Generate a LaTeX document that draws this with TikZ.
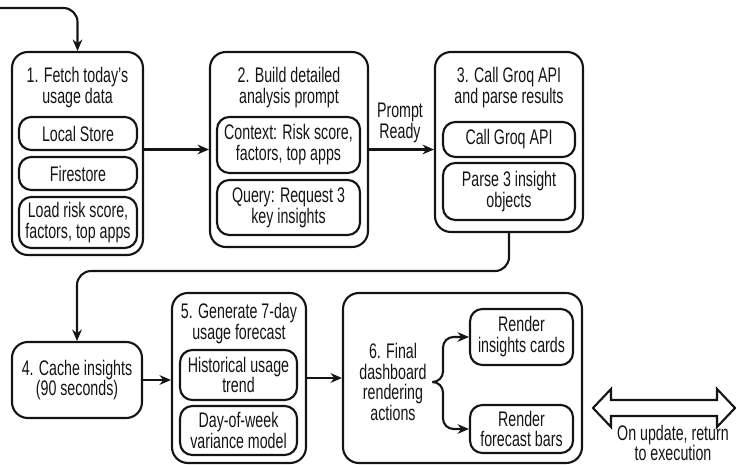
\documentclass[tikz,border=0pt]{standalone}
\usepackage{fontspec}
\setmainfont[FakeStretch=0.675]{Liberation Sans}
\usetikzlibrary{arrows.meta}
\definecolor{ink}{HTML}{141414}

\begin{document}
\begin{tikzpicture}[x=0.02cm, y=-0.02cm,
    every node/.style={font=\fontsize{12}{11.9}\selectfont, text=ink, align=center},
    stage/.style={draw=ink, line width=1.2pt, rounded corners=9pt, inner sep=0pt},
    item/.style={draw=ink, line width=1.2pt, rounded corners=7pt, inner sep=0pt},
    flow/.style={draw=ink, line width=1.2pt, -{Stealth[length=6.5pt, width=5.5pt]}}]
    \useasboundingbox (0,0) rectangle (736,465);

    % top row
    \node[stage, minimum width=2.62cm, minimum height=4.06cm] (fetch) at (77.5,153.5) {};
    \node (fetchT) at (77.5,88) {1. Fetch today's\\usage data};
    \foreach \n/\y/\h/\t in {local/133.5/0.66cm/Local Store, fire/173.5/0.66cm/Firestore,
        load/222.5/1.02cm/{Load risk score,\\factors, top apps}} {
      \node[item, minimum width=2.36cm, minimum height=\h] (\n) at (78,\y) {\t};
    }

    \node[stage, minimum width=3.16cm, minimum height=3.9cm] (prompt) at (289,149.5) {};
    \node (promptT) at (289,88) {2. Build detailed\\analysis prompt};
    \node[item, minimum width=2.86cm, minimum height=1.12cm] (context) at (288.5,145) {Context: Risk score,\\factors, top apps};
    \node[item, minimum width=2.86cm, minimum height=1.1cm] (query) at (288.5,207.5) {Query: Request 3\\key insights};

    \node[stage, minimum width=2.96cm, minimum height=3.6cm] (groq) at (509,142) {};
    \node (groqT) at (509,88) {3. Call Groq API\\and parse results};
    \node[item, minimum width=2.64cm, minimum height=0.7cm] (call) at (509,139.5) {Call Groq API};
    \node[item, minimum width=2.64cm, minimum height=1.14cm] (parse) at (509,191.5) {Parse 3 insight\\objects};

    \node (ready) at (400,123) {Prompt\\Ready};

    % bottom row
    \node[stage, minimum width=2.6cm, minimum height=1.52cm] (cache) at (77,380) {4. Cache insights\\(90 seconds)};

    \node[stage, minimum width=2.68cm, minimum height=3.4cm] (forecast) at (239,378) {};
    \node (forecastT) at (239,324) {5. Generate 7-day\\usage forecast};
    \node[item, minimum width=2.34cm, minimum height=1.0cm] (trend) at (238.5,375) {Historical usage\\trend};
    \node[item, minimum width=2.34cm, minimum height=0.98cm] (week) at (238.5,430.5) {Day-of-week\\variance model};

    \node[stage, minimum width=4.78cm, minimum height=3.4cm] (render) at (462.5,378) {};
    \node (final) at (393,382) {6. Final\\dashboard\\rendering\\actions};
    \node[item, minimum width=2.06cm, minimum height=1.12cm] (cards) at (521.5,337) {Render\\insights cards};
    \node[item, minimum width=2.06cm, minimum height=0.96cm] (bars) at (521.5,429) {Render\\forecast bars};

    \node (update) at (673,443) {On update, return\\to execution};

    % connectors
    \coordinate (start) at (0,8);
    \coordinate (fork) at (443,382);
    \draw[flow, rounded corners=8pt] (start) -| (fetch.north);
    \draw[flow] (fetch.east |- prompt.west) -- (prompt.west);
    \draw[flow] (prompt.east) -- (prompt.east -| groq.west);
    \draw[flow, rounded corners=8pt] (groq.south) -- ++(0,38) -| (cache.north);
    \draw[flow] (cache.east) -- (cache.east -| forecast.west);
    \draw[flow] (forecast.east) -- (render.west);
    \draw[flow, rounded corners=6pt] (final.east) -- (fork) |- (cards.west);
    \draw[flow, rounded corners=6pt] (final.east) -- (fork) |- (bars.west);

    % return arrow
    \draw[line width=1.2pt, draw=ink, fill=white] (593,408) -- (611,389) -- (611,400) -- (717,400)
      -- (717,389) -- (735,408) -- (717,427) -- (717,416) -- (611,416) -- (611,427) -- cycle;
\end{tikzpicture}
\end{document}
